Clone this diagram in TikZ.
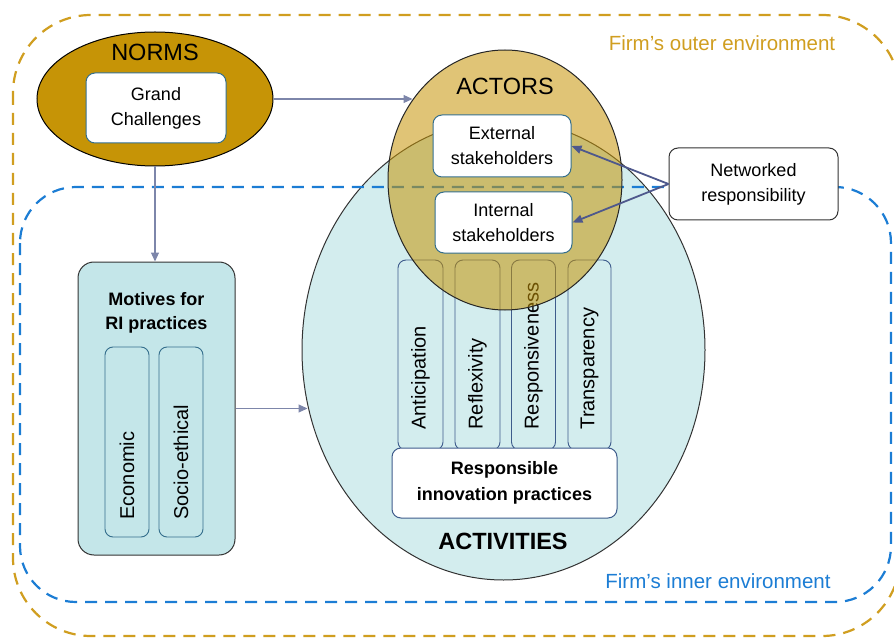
\documentclass[tikz,border=0pt]{standalone}
\usepackage{fontspec}
\setmainfont{Liberation Sans}
\usetikzlibrary{arrows.meta,shapes.geometric}
\definecolor{goldD}{RGB}{198,148,6}
\definecolor{goldL}{RGB}{208,158,32}
\definecolor{blueE}{RGB}{28,125,212}
\definecolor{tealF}{RGB}{211,237,238}
\definecolor{tealM}{RGB}{196,230,233}
\definecolor{bordT}{RGB}{52,110,140}
\definecolor{bordB}{RGB}{62,92,140}
\definecolor{arrG}{RGB}{125,134,170}
\definecolor{arrD}{RGB}{78,88,140}
\begin{document}
\begin{tikzpicture}[x=1pt,y=-1pt,
  env/.style={line width=2.2pt, dash pattern=on 12pt off 8pt},
  wbox/.style={draw=bordT, fill=white, rounded corners=9pt, line width=1pt, align=center, inner sep=0pt},
  vbox/.style={draw=bordB, fill=tealF, rounded corners=8pt, line width=0.9pt, inner sep=0pt},
  thinarrow/.style={draw=arrG, line width=1.1pt, -{Triangle[length=9pt,width=8pt]}},
  netarrow/.style={draw=arrD, line width=1.8pt, -{Triangle[length=10pt,width=8pt]}},
  txt/.style={font=\fontsize{18}{25}\selectfont, align=center},
  vtxt/.style={font=\fontsize{20}{24}\selectfont, rotate=90, anchor=west},
  big/.style={font=\fontsize{23.5}{28}\selectfont, anchor=base},
]
\useasboundingbox (0,0) rectangle (894,639);
\begin{scope}
\clip (0,0) rectangle (894,639);
% outer environment
\draw[env, goldL, rounded corners=78pt] (13,15) rectangle (900,636);
\node[text=goldL, font=\fontsize{20.5}{24}\selectfont, anchor=base] (outerlbl) at (722,51) {Firm’s outer environment};
\node[text=blueE, font=\fontsize{20.5}{24}\selectfont, anchor=base] (innerlbl) at (718,588) {Firm’s inner environment};

% activities ellipse
\node[ellipse, draw=black!80, line width=1pt, fill=tealF, minimum width=403pt, minimum height=460pt, inner sep=0pt] (act) at (503.5,350) {};

% four dimensions
\node[vbox, minimum width=45pt, minimum height=190pt] (antb) at (420.5,355) {};
\node[vbox, minimum width=45pt, minimum height=190pt] (refb) at (477.5,355) {};
\node[vbox, minimum width=44pt, minimum height=190pt] (resb) at (533.5,355) {};
\node[vbox, minimum width=43pt, minimum height=190pt] (trab) at (589.5,355) {};
\node[vtxt] (antt) at (420.5,433) {Anticipation};
\node[vtxt] (reft) at (477.5,433) {Reflexivity};
\node[vtxt] (rest) at (533.5,433) {Responsiveness};
\node[vtxt] (trat) at (589.5,433) {Transparency};

\node[wbox, draw=bordB, minimum width=225pt, minimum height=70pt, font=\bfseries\fontsize{18}{26}\selectfont] (rip) at (504.5,483) {Responsible\\innovation practices};
\node[big, font=\bfseries\fontsize{23.5}{28}\selectfont] (actl) at (503,549) {ACTIVITIES};

% inner environment
\draw[env, blueE, rounded corners=56pt] (20,187) rectangle (891,602);

% actors ellipse (transparent)
\node[ellipse, draw=black!85, line width=1pt, fill=goldD, fill opacity=0.55, minimum width=234pt, minimum height=260pt, inner sep=0pt] (actors) at (505,180) {};
\node[big] (actorsl) at (505,95) {ACTORS};
\node[wbox, minimum width=138pt, minimum height=62pt, txt] (ext) at (502,146) {External\\stakeholders};
\node[wbox, minimum width=137pt, minimum height=61pt, txt] (int) at (503.5,222.5) {Internal\\stakeholders};

% networked responsibility
\node[wbox, draw=black!80, minimum width=169pt, minimum height=72pt, txt] (net) at (753.5,184) {Networked\\responsibility};
\draw[netarrow] (net.west) -- (ext.east);
\draw[netarrow] (net.west) -- (int.east);

% norms
\node[ellipse, draw=black, line width=1pt, fill=goldD, minimum width=236pt, minimum height=134pt, inner sep=0pt] (norms) at (155,99) {};
\node[big] (normsl) at (155,61) {NORMS};
\node[wbox, minimum width=140pt, minimum height=70pt, txt] (gc) at (156,108) {Grand\\Challenges};

% motives
\node[draw=black!80, line width=1pt, fill=tealM, rounded corners=16pt, minimum width=157pt, minimum height=293pt, inner sep=0pt] (mot) at (156.5,408.5) {};
\node[font=\bfseries\fontsize{18}{24}\selectfont, align=center] (motl) at (156.5,313) {Motives for\\RI practices};
\node[vbox, draw=bordT, fill=tealM, minimum width=44pt, minimum height=190pt] (ecob) at (127,442) {};
\node[vbox, draw=bordT, fill=tealM, minimum width=44pt, minimum height=190pt] (socb) at (181,442) {};
\node[vtxt] (ecot) at (127,523) {Economic};
\node[vtxt] (soct) at (181,523) {Socio-ethical};

% connectors
\draw[thinarrow, shorten >=-25pt] (norms.east) -- (norms.east -| actors.west);
\draw[thinarrow] (norms.south) -- (norms.south |- mot.north);
\draw[thinarrow, shorten >=-6pt] (mot.east) -- (mot.east -| act.west);
\end{scope}
\end{tikzpicture}
\end{document}
